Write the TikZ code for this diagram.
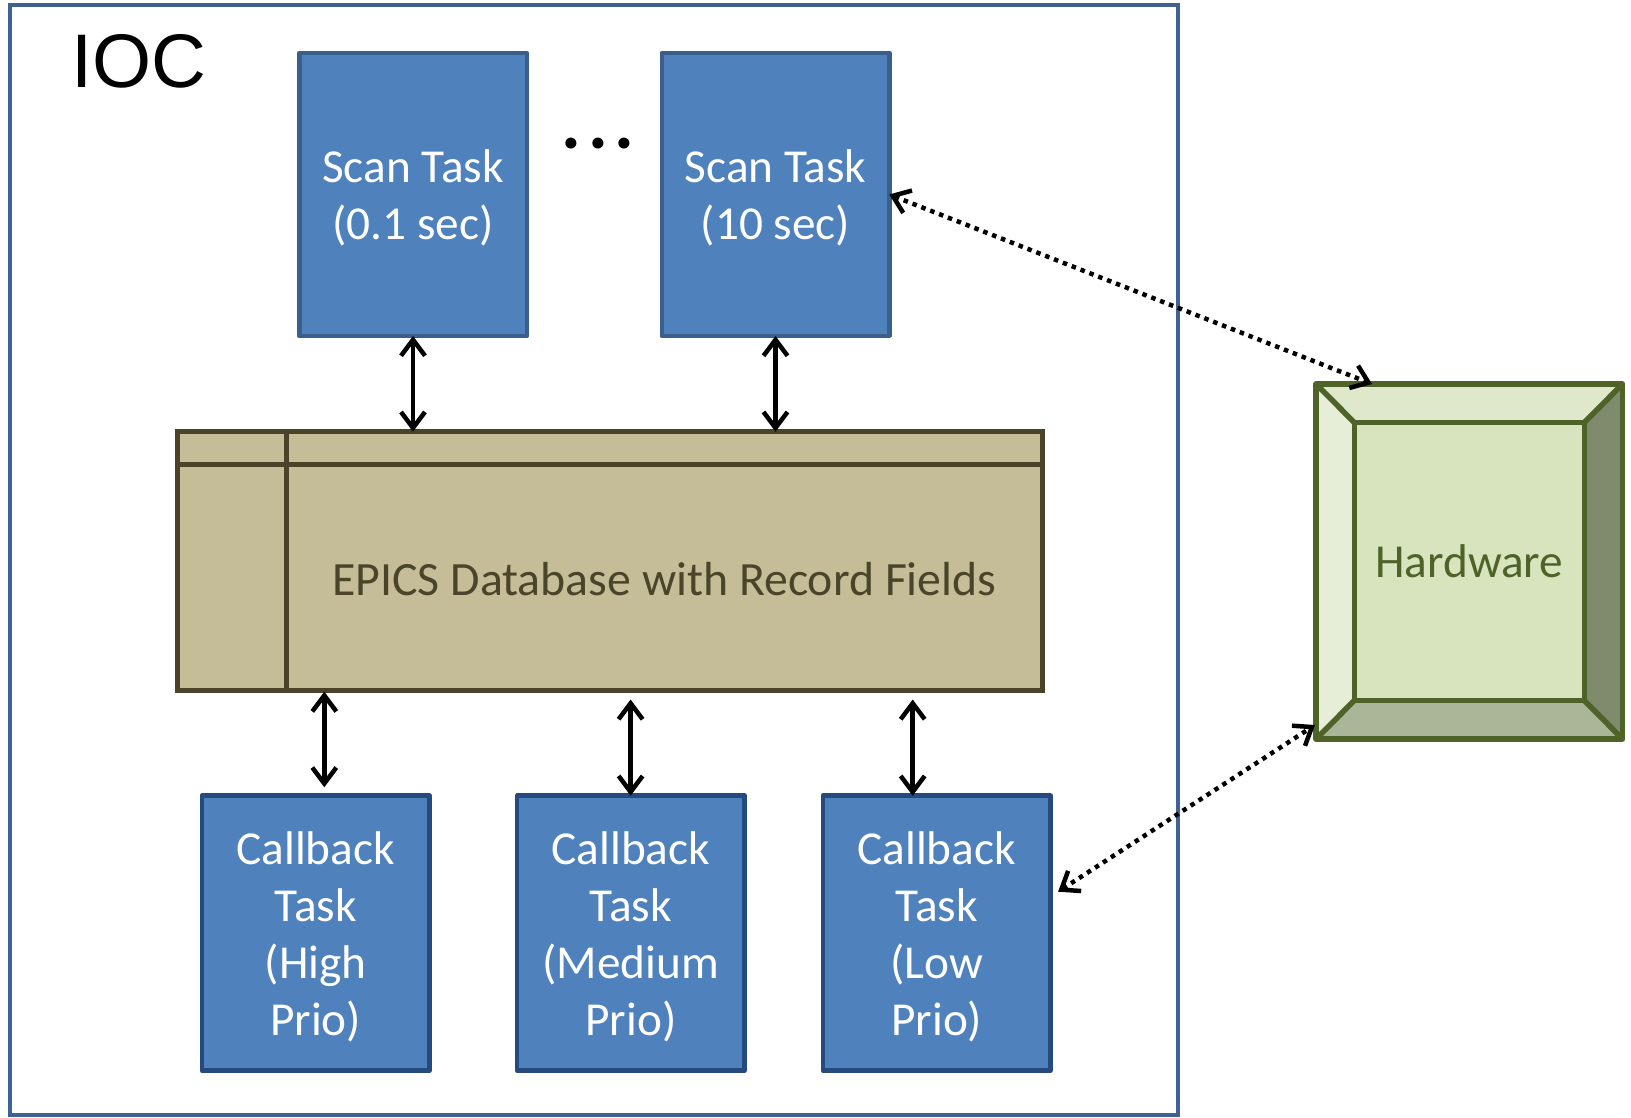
\documentclass[tikz,border=0pt]{standalone}
\usepackage{fontspec}
\setmainfont{Carlito}
\newfontfamily\iocfont{Liberation Sans}
\usetikzlibrary{arrows.meta,calc}

\definecolor{taskfill}{HTML}{4F81BD}
\definecolor{scanline}{HTML}{3A5F8D}
\definecolor{cbline}{HTML}{254A7E}
\definecolor{iocline}{HTML}{41628F}
\definecolor{dbfill}{HTML}{C4BD97}
\definecolor{dbline}{HTML}{4A4229}
\definecolor{dbtext}{HTML}{4A452A}
\definecolor{hwline}{HTML}{4F6228}
\definecolor{hwface}{HTML}{D7E4BD}
\definecolor{hwtop}{HTML}{DFE8CB}
\definecolor{hwleft}{HTML}{E6EED8}
\definecolor{hwright}{HTML}{808A6C}
\definecolor{hwbottom}{HTML}{ABB597}

\tikzset{
  boxtext/.style={font=\fontsize{47.3}{57}\selectfont, align=center, inner sep=0pt},
  tasktext/.style={boxtext, text=white},
  taskbox/.style={rectangle, draw, fill=taskfill, line width=4.5pt,
    inner sep=0pt, outer sep=0pt, minimum width=227.5pt, line join=round},
  scanbox/.style={taskbox, draw=scanline, minimum height=283pt},
  cbbox/.style={taskbox, draw=cbline, minimum height=275pt},
  barb/.tip={Straight Barb[length=16pt,width=24pt]},
  link/.style={line width=4.5pt, barb-barb},
  hwlink/.style={line width=4.5pt, dash pattern=on 4.5pt off 5pt, barb-barb},
  bevel/.style={draw=hwline, line width=5.5pt, line join=round}
}

\begin{document}
\begin{tikzpicture}[x=1pt,y=-1pt]
\useasboundingbox (0,0) rectangle (1631,1118);

% IOC frame
\node[rectangle, draw=iocline, line width=4pt, minimum width=1168.5pt,
  minimum height=1110pt, inner sep=0pt, outer sep=0pt] (ioc) at (593.75,560) {};
\node[anchor=base west, inner sep=0pt, font=\iocfont\fontsize{76}{80}\selectfont]
  (ioclabel) at (71,88) {IOC};

% scan tasks
\node[scanbox] (scan1) at (413,194.5) {};
\node[scanbox] (scan2) at (775.5,194.5) {};
\node[tasktext] (scan1text) at ($(scan1.center)+(0,3.5)$) {Scan Task\\(0.1 sec)};
\node[tasktext] (scan2text) at ($(scan2.center)+(0,3.5)$) {Scan Task\\(10 sec)};
\node[inner sep=0pt, font=\bfseries\fontsize{74}{78}\selectfont] (dots) at (598,144)
  {.\kern7pt.\kern7pt.};

% database
\node[rectangle, draw=dbline, fill=dbfill, line width=5pt, inner sep=0pt,
  outer sep=0pt, minimum width=864.5pt, minimum height=259pt] (db) at (610.1,561.2) {};
\coordinate (dbdivtop) at ($(db.north west)+(108.5,0)$);
\draw[dbline, line width=5pt] (db.north west |- 0,464.3) -- (db.north east |- 0,464.3);
\draw[dbline, line width=5pt] (dbdivtop) -- (dbdivtop |- db.south);
\node[boxtext, text=dbtext, font=\fontsize{47.8}{57}\selectfont] (dblabel) at (664.5,579)
  {EPICS Database with Record Fields};

% callback tasks
\node[cbbox] (cb1) at (315.7,933.2) {};
\node[cbbox] (cb2) at (630.9,933.2) {};
\node[cbbox] (cb3) at (936.75,933.2) {};
\node[tasktext] (cb1text) at ($(cb1.center)+(0,4)$) {Callback\\Task\\(High\\Prio)};
\node[tasktext] (cb2text) at ($(cb2.center)+(0,4)$) {Callback\\Task\\(Medium\\Prio)};
\node[tasktext] (cb3text) at ($(cb3.center)+(0,4)$) {Callback\\Task\\(Low\\Prio)};

% hardware block with bevelled edges
\node[rectangle, inner sep=0pt, outer sep=0pt, minimum width=306.5pt,
  minimum height=355pt] (hw) at (1469.3,561.5) {};
\node[rectangle, inner sep=0pt, outer sep=0pt, minimum width=230pt,
  minimum height=278pt] (hwin) at (1469.25,561.5) {};
\fill[hwtop] (hw.north west) -- (hw.north east) -- (hwin.north east) -- (hwin.north west) -- cycle;
\fill[hwleft] (hw.north west) -- (hwin.north west) -- (hwin.south west) -- (hw.south west) -- cycle;
\fill[hwright] (hw.north east) -- (hw.south east) -- (hwin.south east) -- (hwin.north east) -- cycle;
\fill[hwbottom] (hw.south west) -- (hwin.south west) -- (hwin.south east) -- (hw.south east) -- cycle;
\fill[hwface] (hwin.north west) rectangle (hwin.south east);
\node[boxtext, text=hwline] (hwlabel) at (hwin.center) {Hardware};
\draw[bevel] (hw.north west) rectangle (hw.south east);
\draw[bevel] (hwin.north west) rectangle (hwin.south east);
\draw[bevel] (hw.north west) -- (hwin.north west);
\draw[bevel] (hw.north east) -- (hwin.north east);
\draw[bevel] (hw.south west) -- (hwin.south west);
\draw[bevel] (hw.south east) -- (hwin.south east);

% links between scan tasks and database
\draw[link] (scan1.south) -- (scan1.south |- db.north);
\draw[link] (scan2.south) -- (scan2.south |- db.north);

% links between database and callback tasks
\coordinate (l1top) at (324.3,691.7);
\coordinate (l1bot) at (324.3,787.3);
\coordinate (l2top) at (630.6,699.5);
\coordinate (l3top) at (912.7,699.5);
\draw[link] (l1top) -- (l1bot);
\draw[link] (l2top) -- (l2top |- cb2.north);
\draw[link] (l3top) -- (l3top |- cb3.north);

% links to the hardware
\coordinate (hwtopend) at ($(hw.north west)+(56,0)$);
\coordinate (hwleftend) at ($(hw.south west)+(-1,-14)$);
\coordinate (cb3end) at ($(cb3.east)+(7.6,-41.5)$);
\draw[hwlink] (scan2.east) -- (hwtopend);
\draw[hwlink] (cb3end) -- (hwleftend);
\end{tikzpicture}
\end{document}
